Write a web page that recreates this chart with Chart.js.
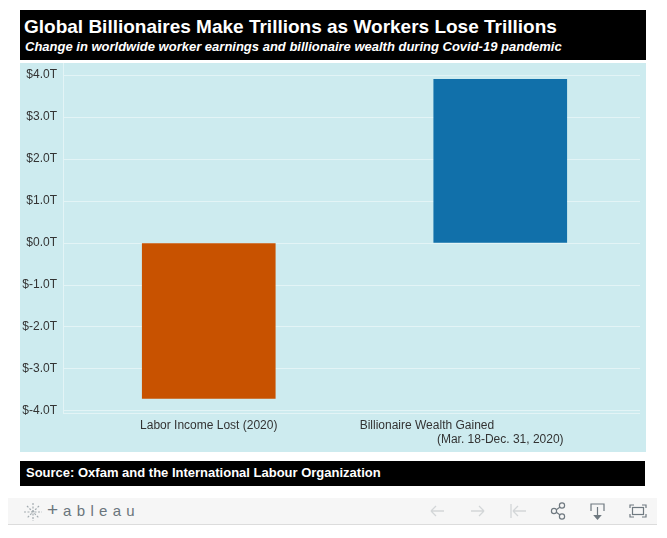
<!DOCTYPE html>
<html><head><meta charset="utf-8">
<script src="https://cdn.jsdelivr.net/npm/chart.js@4"></script>
<style>
html,body{margin:0;padding:0;background:#fff;width:667px;height:538px;overflow:hidden;font-family:"Liberation Sans",Arial,sans-serif}
.abs{position:absolute;white-space:nowrap}
#head{left:20px;top:10px;width:626px;height:50px;background:#000}
#t{left:24px;top:16px;font-size:19px;font-weight:bold;color:#fff;line-height:22px}
#s{left:25px;top:39px;font-size:13px;font-weight:bold;font-style:italic;color:#fff;line-height:15px}
#panel{left:20px;top:63px;width:626px;height:389px;background:#cdebef}
#foot{left:20px;top:461px;width:625px;height:25px;background:#000}
#src{left:26px;top:465px;font-size:13px;font-weight:bold;color:#fff;line-height:16px}
#bar{left:8px;top:498px;width:649px;height:26px;background:#f6f6f6;border-bottom:1px solid #dcdcdc}
#logo{left:47px;top:501px;font-size:15px;color:#6a757c;letter-spacing:5.3px;line-height:18px}
#logo span{font-size:19px;letter-spacing:5px}
svg{position:absolute;overflow:visible}
</style></head><body>
<div class="abs" id="head"></div>
<div class="abs" id="t">Global Billionaires Make Trillions as Workers Lose Trillions</div>
<div class="abs" id="s">Change in worldwide worker earnings and billionaire wealth during Covid-19 pandemic</div>
<div class="abs" id="panel"><canvas id="c" width="626" height="389" style="width:626px;height:389px;display:block"></canvas></div>
<div class="abs" id="foot"></div>
<div class="abs" id="src">Source: Oxfam and the International Labour Organization</div>
<div class="abs" id="bar"></div>
<div class="abs" id="logo"><span>+</span>ableau</div>
<svg style="left:0;top:0" width="667" height="538" fill="none">
  <g stroke="#a3abb0" stroke-width="1.2" stroke-dasharray="2 1.5">
    <path d="M33 503v18M24 512h18M27 506l12 12M39 506l-12 12"/>
  </g>
  <g stroke="#d3d6d8" stroke-width="1.3">
    <path d="M431 511h13M431 511l5-5M431 511l5 5"/>
    <path d="M471 511h13M484 511l-5-5M484 511l-5 5"/>
    <path d="M511 504v14M513 511h13M513 511l5-5M513 511l5 5"/>
  </g>
  <g stroke="#6f7980" stroke-width="1.2">
    <circle cx="562" cy="505.500" r="2.600"/><circle cx="562" cy="516.500" r="2.600"/><circle cx="554" cy="511" r="2.600"/>
    <path d="M556.300 509.700l3.500-2.500M556.300 512.300l3.500 2.500"/>
    <path d="M591 511v-7h13v7M597.500 507v11"/><path d="M594.500 515.500h6l-3 3.500z" fill="#6f7980"/>
    <path d="M630 508v-3h4M642 505h4v3M630 514v3h4M646 514v3h-4"/><rect x="632.500" y="507.500" width="11" height="7"/>
  </g>
</svg>
<script>
const categories = ["Labor Income Lost (2020)", ["Billionaire Wealth Gained" + "\u00a0".repeat(44), "(Mar. 18-Dec. 31, 2020)"]];
const changeTrillions = [-3.7, 3.9];
const barColors = ["#c85200", "#1170aa"];
const yTicks = [4, 3, 2, 1, 0, -1, -2, -3, -4];
const panelColor = "#cdebef", gridColor = "#e3f4f6", textColor = "#333333";

const trimGrid = {
  id: "trimGrid",
  beforeDatasetsDraw(chart) {
    const a = chart.chartArea, x = chart.ctx;
    x.save(); x.fillStyle = panelColor;
    x.fillRect(a.right - 6, a.top, 7, a.bottom - a.top + 1);
    x.restore();
  }
};
new Chart(document.getElementById("c"), {
  type: "bar",
  data: { labels: categories, datasets: [{ data: changeTrillions, backgroundColor: barColors, barThickness: 133, borderWidth: 0 }] },
  plugins: [trimGrid],
  options: {
    responsive: false, animation: false, devicePixelRatio: 1,
    layout: { padding: 0 },
    plugins: { legend: { display: false }, tooltip: { enabled: false }, title: { display: false } },
    scales: {
      x: {
        grid: { display: false, drawTicks: false },
        border: { display: true, color: gridColor, width: 1 },
        afterFit(s) { s.height = 39; s.paddingLeft = 0; s.paddingRight = 0; },
        ticks: { autoSkip: false, maxRotation: 0, minRotation: 0, padding: 5, color: textColor,
                 font: { family: "'Liberation Sans',Arial,sans-serif", size: 12 } }
      },
      y: {
        min: -4.05, max: 4.29,
        afterBuildTicks(s) { s.ticks = yTicks.map(v => ({ value: v })); },
        afterFit(s) { s.width = 43; s.paddingTop = 0; s.paddingBottom = 0; },
        grid: { color: gridColor, lineWidth: 1, drawTicks: false },
        border: { display: true, color: gridColor, width: 1 },
        ticks: { padding: 6, color: textColor, font: { family: "'Liberation Sans',Arial,sans-serif", size: 12 },
                 callback: v => "$" + Number(v).toFixed(1) + "T" }
      }
    }
  }
});
</script>
</body></html>
